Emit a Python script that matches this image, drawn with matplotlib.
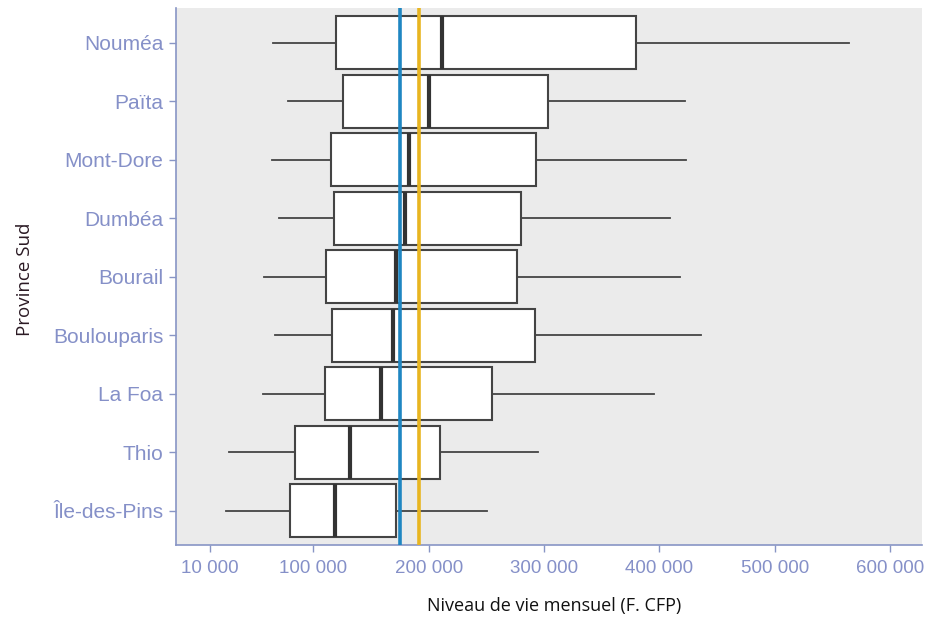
# Niveau de vie mensuel par commune - Province Sud (boxplots horizontaux)
import matplotlib
matplotlib.use("Agg")
import matplotlib.pyplot as plt

# Communes, du haut vers le bas
communes = ["Nouméa", "Païta", "Mont-Dore", "Dumbéa", "Bourail",
            "Boulouparis", "La Foa", "Thio", "Île-des-Pins"]

# Statistiques (F. CFP)
whisker_low = [65000, 78000, 64000, 70000, 57500, 67000, 56500, 26500, 24000]
q1 = [119700, 126000, 115000, 117400, 111000, 116200, 109800, 84000, 80000]
median = [211700, 200000, 182500, 179300, 171800, 168800, 159000, 131900, 119100]
q3 = [380000, 303000, 293300, 280300, 276500, 292100, 254500, 209400, 171200]
whisker_high = [564700, 422300, 422900, 409300, 417700, 435700, 395400, 295100, 250800]

# Lignes de référence verticales
ref_blue = 175300
ref_yellow = 191400

xticks = [10000, 100000, 200000, 300000, 400000, 500000, 600000]
xtick_labels = ["10 000", "100 000", "200 000", "300 000", "400 000", "500 000", "600 000"]

label_color = "#8590C8"
axis_color = "#8895C5"

fig = plt.figure(figsize=(9.33, 6.17), dpi=100)
ax = fig.add_axes([176 / 933, 1 - 545 / 617, (922 - 176) / 933, (545 - 8.3) / 617])
ax.set_facecolor("#EBEBEB")

n = len(communes)
positions = list(range(n, 0, -1))
stats = []
for i, name in enumerate(communes):
    stats.append({
        "label": name,
        "whislo": whisker_low[i],
        "q1": q1[i],
        "med": median[i],
        "q3": q3[i],
        "whishi": whisker_high[i],
        "fliers": [],
    })

ax.bxp(
    stats,
    positions=positions,
    vert=False,
    widths=0.9,
    patch_artist=True,
    showcaps=False,
    showfliers=False,
    boxprops=dict(facecolor="white", edgecolor="#444444", linewidth=1.5),
    medianprops=dict(color="#333333", linewidth=3),
    whiskerprops=dict(color="#444444", linewidth=1.3),
)

ax.axvline(ref_blue, color="#1F86C2", linewidth=2.6, zorder=5)
ax.axvline(ref_yellow, color="#E8B520", linewidth=2.6, zorder=5)

ax.set_xlim(-19200, 627800)
ax.set_ylim(0.414, 9.59)

ax.set_xticks(xticks)
ax.set_xticklabels(xtick_labels, fontsize=13.5, color=label_color, family="Liberation Sans")
ax.set_yticks(positions)
ax.set_yticklabels(communes, fontsize=15, color=label_color, family="Liberation Sans")
ax.tick_params(axis="both", colors=axis_color, length=5, width=1, labelcolor=label_color)
ax.tick_params(axis="x", pad=6)
ax.tick_params(axis="y", pad=4)

for side in ["top", "right"]:
    ax.spines[side].set_visible(False)
for side in ["left", "bottom"]:
    ax.spines[side].set_color(axis_color)
    ax.spines[side].set_linewidth(1.2)

fig.text(554 / 933, 1 - 605.7 / 617, "Niveau de vie mensuel (F. CFP)",
         ha="center", va="center", fontsize=13, family="Open Sans", color="#111111")
fig.text(25 / 933, 1 - 279 / 617, "Province Sud", rotation=90,
         ha="center", va="center", fontsize=13.5, family="Open Sans", color="#2B1A24")

fig.savefig("out.png", dpi=100)
